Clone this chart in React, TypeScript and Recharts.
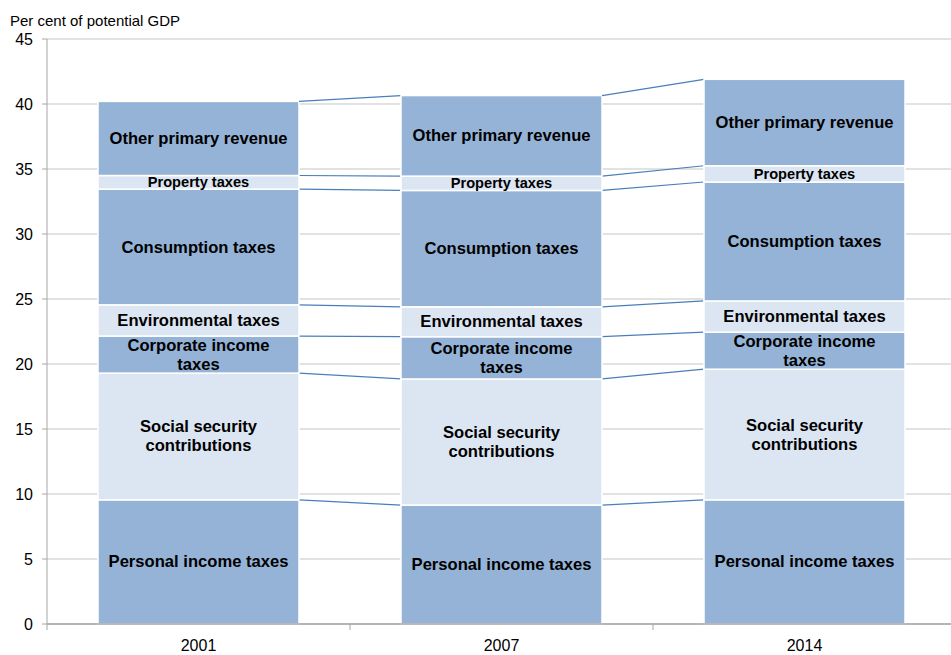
import React from 'react';
import { Bar, BarChart, CartesianGrid, XAxis, YAxis } from 'recharts';

// per cent of potential GDP, bottom of the stack first
const years = ['2001', '2007', '2014'];
const personalIncome = [9.55, 9.15, 9.55];
const socialSecurity = [9.75, 9.7, 10.05];
const corporateIncome = [2.85, 3.25, 2.85];
const environmental = [2.4, 2.3, 2.4];
const consumption = [8.9, 8.95, 9.15];
const property = [1.05, 1.1, 1.25];
const otherPrimary = [5.7, 6.2, 6.65];
const yTicks = [0, 5, 10, 15, 20, 25, 30, 35, 40, 45];

const seriesKeys = [
  'personal',
  'social',
  'corporate',
  'environmental',
  'consumption',
  'property',
  'other'
];
const seriesValues = [
  personalIncome,
  socialSecurity,
  corporateIncome,
  environmental,
  consumption,
  property,
  otherPrimary
];
const seriesLabels = [
  ['Personal income taxes'],
  ['Social security', 'contributions'],
  ['Corporate income', 'taxes'],
  ['Environmental taxes'],
  ['Consumption taxes'],
  ['Property taxes'],
  ['Other primary revenue']
];

const DARK = '#95b3d7';
const LIGHT = '#dce6f2';
const LINK = '#4a7ebb';
const FONT = 'Arial, "Liberation Sans", sans-serif';

const CHART_W = 960;
const CHART_H = 655;
const MARGIN = { top: 39, right: 4, bottom: 0, left: 0 };
const YAXIS_W = 47;
const XAXIS_H = 31;
const Y_MAX = 45;
const PLOT_BOTTOM = CHART_H - MARGIN.bottom - XAXIS_H;
const PLOT_H = PLOT_BOTTOM - MARGIN.top;
const PX_PER_UNIT = PLOT_H / Y_MAX;
const BAND = (CHART_W - MARGIN.left - MARGIN.right - YAXIS_W) / years.length;

const data = years.map((year, i) => {
  const row: any = { year };
  seriesKeys.forEach((k, s) => {
    row[k] = seriesValues[s][i];
  });
  return row;
});

// cumulative top of each series in each year
const cumTop = seriesValues.map((_, s) =>
  years.map((_, i) =>
    seriesValues.slice(0, s + 1).reduce((sum, arr) => sum + arr[i], 0)
  )
);

const Segment = (props: any) => {
  const { x, y, width, height, index, s } = props;
  const lines = seriesLabels[s];
  const small = seriesKeys[s] === 'property';
  const fontSize = small ? 14.6 : 16.6;
  const lineH = 19;
  const cy = y + height / 2;
  const next = index < years.length - 1;
  const yNext = next
    ? y + (cumTop[s][index] - cumTop[s][index + 1]) * PX_PER_UNIT
    : 0;
  return (
    <g>
      <rect
        x={x}
        y={y}
        width={width}
        height={height}
        fill={s % 2 === 0 ? DARK : LIGHT}
        stroke="#fff"
        strokeWidth={1.5}
      />
      {next && (
        <line
          x1={x + width}
          y1={y}
          x2={x + BAND}
          y2={yNext}
          stroke={LINK}
          strokeWidth={1.2}
        />
      )}
      {lines.map((t, j) => (
        <text
          key={j}
          x={x + width / 2}
          y={cy + (j - (lines.length - 1) / 2) * lineH}
          textAnchor="middle"
          dominantBaseline="central"
          fontFamily={FONT}
          fontWeight="bold"
          fontSize={fontSize}
          fill="#000"
        >
          {t}
        </text>
      ))}
    </g>
  );
};

const YearTick = (props: any) => {
  const { x, payload } = props;
  return (
    <g>
      <line
        x1={x - BAND / 2}
        y1={PLOT_BOTTOM}
        x2={x - BAND / 2}
        y2={PLOT_BOTTOM + 6}
        stroke="#a6a6a6"
      />
      <text
        x={x}
        y={PLOT_BOTTOM + 21}
        textAnchor="middle"
        dominantBaseline="central"
        fontFamily={FONT}
        fontSize={16}
        fill="#000"
      >
        {payload.value}
      </text>
    </g>
  );
};

const App: React.FC = () => {
  return (
    <div
      style={{
        position: 'absolute',
        left: 0,
        top: 0,
        width: 951,
        height: 655,
        overflow: 'hidden',
        background: '#fff'
      }}
    >
      <svg
        width={300}
        height={34}
        style={{ position: 'absolute', left: 0, top: 0 }}
      >
        <text x={10} y={26} fontFamily={FONT} fontSize={15} fill="#000">
          Per cent of potential GDP
        </text>
      </svg>
      <BarChart
        width={CHART_W}
        height={CHART_H}
        data={data}
        margin={MARGIN}
        barCategoryGap="17%"
      >
        <CartesianGrid vertical={false} stroke="#d9d9d9" strokeWidth={1.5} />
        <XAxis
          dataKey="year"
          height={XAXIS_H}
          axisLine={{ stroke: '#a6a6a6', strokeWidth: 1.5 }}
          tickLine={false}
          tick={<YearTick />}
          interval={0}
        />
        <YAxis
          width={YAXIS_W}
          domain={[0, Y_MAX]}
          ticks={yTicks}
          interval={0}
          axisLine={{ stroke: '#a6a6a6' }}
          tickLine={{ stroke: '#a6a6a6' }}
          tickSize={5}
          tickMargin={9}
          tick={{ fontFamily: FONT, fontSize: 16, fill: '#000' }}
        />
        {seriesKeys.map((k, s) => (
          <Bar
            key={k}
            dataKey={k}
            stackId="a"
            barSize={201}
            isAnimationActive={false}
            shape={(p: any) => <Segment {...p} s={s} />}
          />
        ))}
      </BarChart>
    </div>
  );
};

export default App;
